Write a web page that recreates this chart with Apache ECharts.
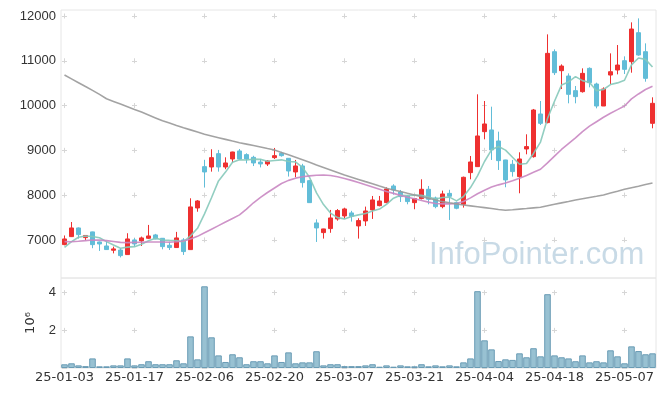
<!DOCTYPE html>
<html>
<head>
<meta charset="utf-8">
<script src="https://cdn.jsdelivr.net/npm/echarts@6/dist/echarts.min.js"></script>
<style>
html,body{margin:0;padding:0;background:#fff;}
#chart{width:665px;height:396px;}
</style>
</head>
<body>
<div id="chart"></div>
<script>
const dates = ['25-01-03','25-01-06','25-01-07','25-01-08','25-01-09','25-01-10','25-01-13','25-01-14','25-01-15','25-01-16',
'25-01-17','25-01-20','25-01-21','25-01-22','25-01-23','25-01-24','25-01-31','25-02-03','25-02-04','25-02-05',
'25-02-06','25-02-07','25-02-10','25-02-11','25-02-12','25-02-13','25-02-14','25-02-17','25-02-18','25-02-19',
'25-02-20','25-02-21','25-02-24','25-02-25','25-02-26','25-02-27','25-02-28','25-03-04','25-03-05','25-03-06',
'25-03-07','25-03-10','25-03-11','25-03-12','25-03-13','25-03-14','25-03-17','25-03-18','25-03-19','25-03-20',
'25-03-21','25-03-24','25-03-25','25-03-26','25-03-27','25-03-28','25-03-31','25-04-01','25-04-02','25-04-03',
'25-04-04','25-04-07','25-04-08','25-04-09','25-04-10','25-04-11','25-04-14','25-04-15','25-04-16','25-04-17',
'25-04-18','25-04-21','25-04-22','25-04-23','25-04-24','25-04-25','25-04-28','25-04-29','25-04-30','25-05-02',
'25-05-07','25-05-08','25-05-09','25-05-12','25-05-13'];

const openP = [6896,7074,7268,7052,7180,6955,6865,6770,6775,6673,
7000,6978,7037,7112,7037,6880,6830,7000,6784,7714,
8637,8629,8927,8629,8808,8987,8905,8845,8740,8696,
8838,8934,8823,8518,8652,8324,7380,7164,7253,7469,
7536,7603,7313,7424,7670,7766,7833,8205,8071,7982,
7833,7923,8131,7937,7744,8040,7833,7796,8503,8637,
9418,9456,9210,8786,8689,8414,9031,8860,9813,9620,
11204,10780,10661,10334,10311,10832,10482,9991,10683,10795,
11003,10981,11628,11204,9604];
const closeP = [7022,7268,7119,7100,6895,6910,6785,6800,6650,7022,
6910,7045,7089,7022,6851,6830,7045,6740,7737,7870,
8518,8838,8629,8719,8964,8808,8808,8719,8697,8763,
8882,8882,8540,8652,8280,7833,7268,7246,7491,7655,
7692,7528,7432,7647,7893,7870,8138,8116,7967,7856,
7923,8131,7908,7744,8027,7975,7707,8399,8741,9322,
9590,9009,8771,8340,8526,8808,9084,9902,9604,11167,
10735,10884,10252,10200,10720,10512,9991,10371,10757,10906,
10810,11710,11130,10609,10051];
const lowP = [6880,7065,7030,6990,6815,6755,6780,6700,6610,6670,
6850,6865,7020,7015,6790,6775,6825,6665,6780,7630,
8170,8525,8525,8580,8725,8800,8710,8650,8620,8652,
8808,8860,8415,8400,8170,7830,6955,7030,7160,7430,
7476,7410,7030,7313,7469,7750,7820,8012,7848,7796,
7685,7905,7796,7707,7707,7446,7685,7722,8354,8630,
9247,8786,8563,8176,8414,8042,8912,8838,9567,9604,
10683,10371,10051,10051,10290,10408,9939,9991,10482,10698,
10705,10735,11115,10534,9493];
const highP = [7100,7400,7280,7110,7185,6965,6970,6850,6815,7150,
7040,7075,7335,7135,7040,6960,7180,7040,7930,7890,
8790,9025,9010,8845,8970,9030,8935,8880,8808,8785,
9053,8970,8825,8786,8700,8340,7460,7250,7670,7690,
7720,7650,7484,7744,7982,7982,8175,8243,8116,8005,
7930,8354,8205,7967,8101,8120,7855,8414,8875,10252,
10103,9976,9418,8790,8786,8957,9359,9925,10103,11591,
11256,10921,10720,10438,10832,10854,10512,10408,11167,11353,
11100,11859,11948,11390,10185];
const volume = [197000,250000,140000,100000,510000,90000,90000,140000,140000,510000,
140000,200000,360000,200000,200000,200000,410000,250000,1680000,460000,
4340000,1630000,670000,320000,730000,570000,200000,360000,360000,250000,
670000,320000,830000,250000,300000,300000,890000,140000,200000,200000,
100000,100000,100000,140000,200000,70000,140000,70000,140000,90000,
90000,200000,90000,140000,90000,140000,90000,300000,510000,4080000,
1470000,990000,370000,460000,430000,780000,570000,1050000,620000,3920000,
670000,570000,510000,360000,670000,300000,360000,300000,940000,620000,
250000,1150000,900000,730000,780000];
const ma5 = [6836,6963,7060,7089,7078,7050,6962,6885,6815,6840,
6850,6905,6980,7040,7000,6990,6985,6955,7090,7260,
7582,7941,8318,8515,8734,8792,8786,8804,8799,8759,
8774,8789,8753,8744,8620,8400,8050,7790,7600,7499,
7470,7522,7560,7591,7645,7690,7796,7933,7997,7989,
8000,7999,7957,7912,7947,7957,7872,7970,8170,8429,
8752,9012,9087,9006,8847,8691,8706,8932,9185,9713,
10098,10458,10528,10648,10558,10514,10335,10359,10470,10507,
10567,10911,11063,11033,10862];
const ma20 = [6963,6960,6970,6985,7000,6995,6985,6965,6945,6940,
6945,6950,6955,6955,6955,6950,6960,6975,7020,7080,
7160,7240,7320,7400,7480,7560,7690,7830,7950,8060,
8160,8260,8330,8380,8410,8430,8445,8450,8440,8410,
8370,8330,8285,8230,8180,8130,8080,8040,7995,7955,
7920,7880,7845,7815,7805,7805,7815,7860,7940,8030,
8110,8180,8230,8270,8320,8380,8440,8510,8578,8720,
8870,9020,9150,9280,9420,9540,9640,9740,9830,9910,
9991,10150,10260,10360,10430];
const ma60 = [10683,10597,10511,10425,10340,10250,10154,10094,10034,9974,
9914,9855,9790,9725,9660,9610,9558,9507,9458,9409,
9360,9322,9284,9246,9208,9172,9140,9107,9074,9041,
9009,8954,8900,8845,8790,8733,8676,8620,8564,8508,
8451,8402,8352,8302,8253,8203,8154,8117,8080,8042,
8005,7967,7930,7893,7855,7830,7806,7781,7761,7741,
7721,7701,7681,7662,7675,7689,7702,7716,7729,7762,
7795,7828,7860,7893,7921,7949,7976,8004,8046,8088,
8131,8166,8201,8237,8272];
const priceTicks = [7000,8000,9000,10000,11000,12000];
const volTicks = [0,2000000,4000000];
const volLabels = [2000000,4000000];

const ohlc = dates.map((d,i)=>[openP[i], closeP[i], lowP[i], highP[i]]);

const markColor = '#d6d6d6';
const chart = echarts.init(document.getElementById('chart'), null, {renderer:'canvas'});
const labelFont = {color:'#333', fontSize:13, fontFamily:'Liberation Sans'};

chart.setOption({
  animation:false,
  backgroundColor:'#fff',
  grid:[
    {left:61, right:9, top:10, height:268, show:true, borderColor:'#e6e6e6', borderWidth:1},
    {left:61, right:9, top:278, height:90, show:true, borderColor:'#e6e6e6', borderWidth:1}
  ],
  xAxis:[
    {type:'category', gridIndex:0, data:dates, boundaryGap:true,
     axisLine:{show:false}, axisTick:{show:false, alignWithLabel:true, interval:9},
     axisLabel:{show:false, interval:9},
     splitLine:{show:true, interval:9, alignWithLabel:true,
       lineStyle:{color:markColor, width:1, type:[5,39.78], dashOffset:-3.5}}},
    {type:'category', gridIndex:1, data:dates, boundaryGap:true,
     axisLine:{show:false}, axisTick:{show:false, alignWithLabel:true, interval:9},
     axisLabel:{show:true, interval:9, margin:3, color:'#333', fontSize:13, fontFamily:'DejaVu Sans'},
     splitLine:{show:true, interval:9, alignWithLabel:true,
       lineStyle:{color:markColor, width:1, type:[5,32.66], dashOffset:-12.2}}}
  ],
  yAxis:[
    {type:'value', gridIndex:0, min:6150, max:12135,
     axisLine:{show:false}, axisTick:{show:false, customValues:priceTicks},
     axisLabel:Object.assign({customValues:priceTicks, margin:5, formatter:(v)=>String(v)}, labelFont),
     splitLine:{show:true, lineStyle:{color:markColor, width:1, type:[5,65], dashOffset:-1}}},
    {type:'value', gridIndex:1, min:0, max:4780000,
     axisLine:{show:false}, axisTick:{show:false, customValues:volTicks},
     axisLabel:Object.assign({customValues:volLabels, margin:5, formatter:(v)=>String(v/1000000)}, labelFont),
     name:'10⁶', nameLocation:'middle', nameRotate:90, nameGap:24,
     nameTextStyle:{color:'#333', fontSize:13, fontFamily:'DejaVu Sans'},
     splitLine:{show:true, lineStyle:{color:markColor, width:1, type:[5,65], dashOffset:-1}}}
  ],
  graphic:[{
    type:'text', left:429, top:240, z:0, silent:true,
    style:{text:'InfoPointer.com', font:'31px "Liberation Sans"', fill:'#c8dae6'}
  }],
  series:[
    {type:'candlestick', xAxisIndex:0, yAxisIndex:0, data:ohlc, barWidth:'72%',
     itemStyle:{color:'#ee3030', color0:'#62bdd8', borderColor:'#ee3030', borderColor0:'#62bdd8', borderWidth:1}},
    {type:'line', name:'MA5', xAxisIndex:0, yAxisIndex:0, data:ma5, symbol:'none', z:3,
     lineStyle:{color:'#86c9ba', width:1.6, opacity:0.9}},
    {type:'line', name:'MA20', xAxisIndex:0, yAxisIndex:0, data:ma20, symbol:'none', z:3,
     lineStyle:{color:'#c987c2', width:1.6, opacity:0.9}},
    {type:'line', name:'MA60', xAxisIndex:0, yAxisIndex:0, data:ma60, symbol:'none', z:3,
     lineStyle:{color:'#999999', width:1.6, opacity:0.9}},
    {type:'bar', xAxisIndex:1, yAxisIndex:1, data:volume, barCategoryGap:'6%',
     itemStyle:{color:'#98c1d2', borderColor:'#6a9cb5', borderWidth:1}}
  ]
});
</script>
</body>
</html>
